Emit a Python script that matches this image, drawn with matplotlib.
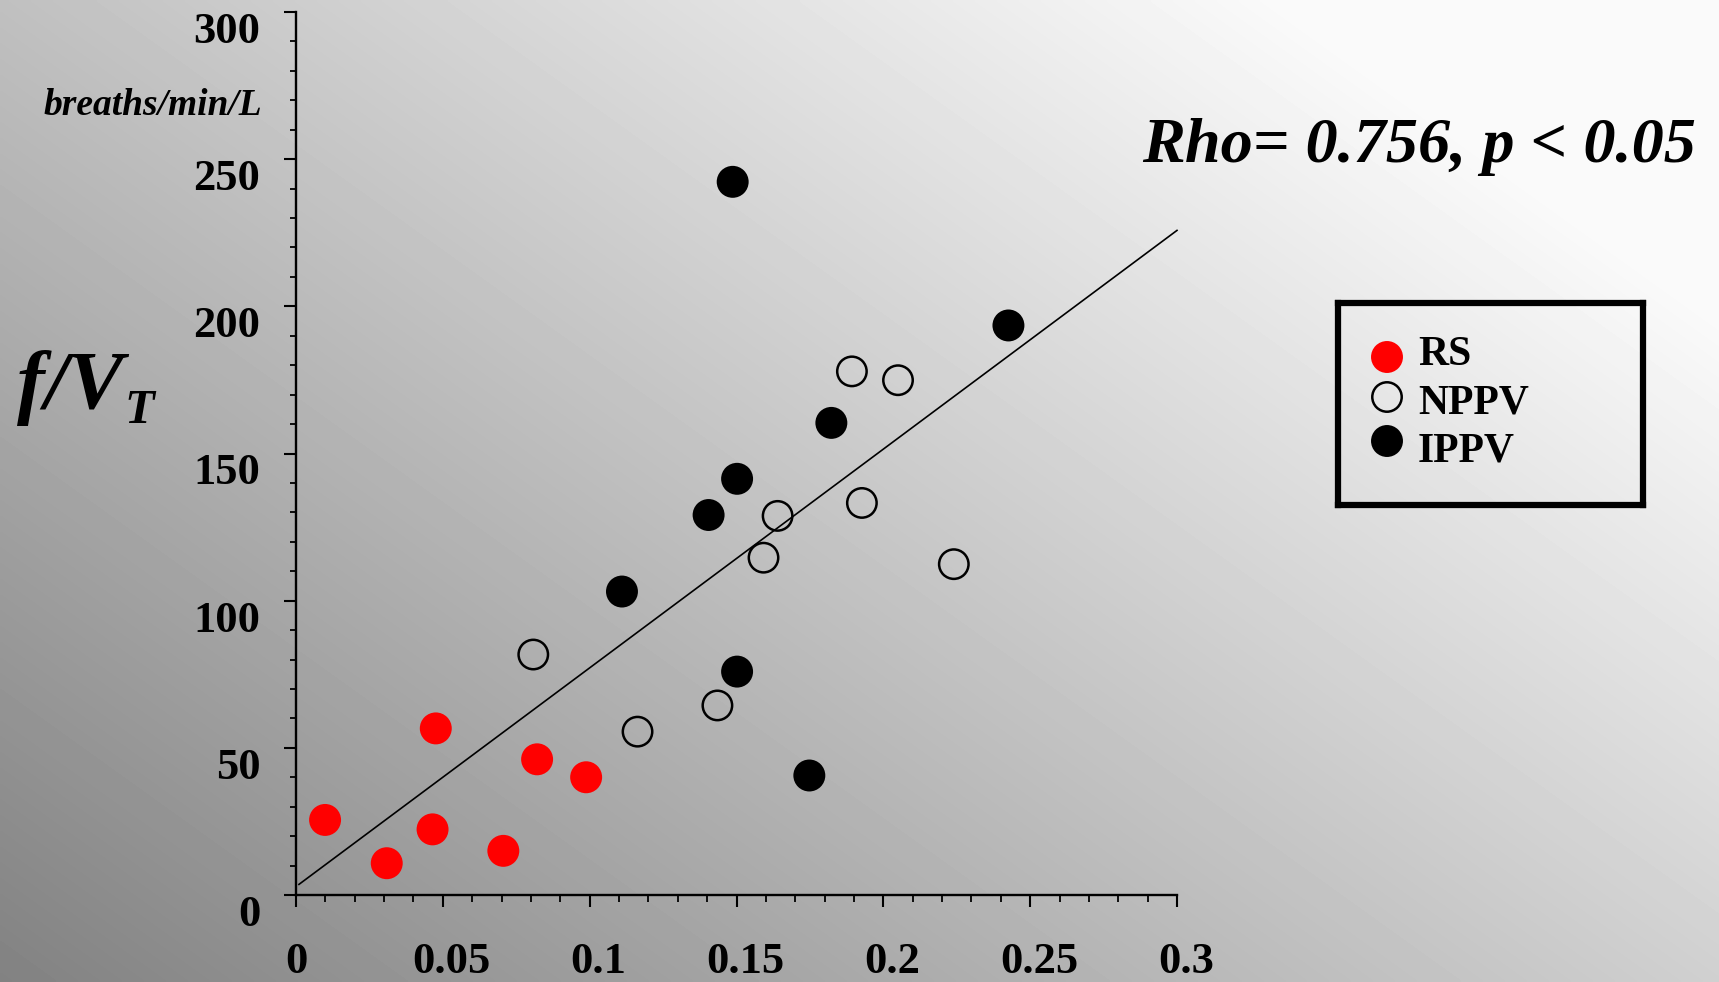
import numpy as np
import matplotlib
matplotlib.use("Agg")
import matplotlib.pyplot as plt
import matplotlib.transforms as mtransforms

plt.rcParams['font.family'] = ['Liberation Serif', 'DejaVu Serif']

# ---------------- data ----------------
rs_x = [0.0099, 0.0309, 0.0465, 0.0476, 0.0706, 0.0821, 0.0988]
rs_y = [25.5, 10.8, 22.3, 56.6, 15.0, 46.1, 40.0]

nppv_x = [0.0808, 0.1163, 0.1435, 0.1592, 0.1640, 0.1893, 0.2050, 0.1927, 0.2240]
nppv_y = [81.7, 55.5, 64.4, 114.6, 128.8, 177.9, 174.9, 133.2, 112.4]

ippv_x = [0.1487, 0.2426, 0.1823, 0.1502, 0.1405, 0.1110, 0.1502, 0.1748]
ippv_y = [242.3, 193.5, 160.4, 141.4, 129.1, 103.1, 75.9, 40.6]

fit_x = [0.001, 0.300]
fit_y = [3.6, 225.8]

x_ticks = [0, 0.05, 0.1, 0.15, 0.2, 0.25, 0.3]
x_tick_labels = ['0', '0.05', '0.1', '0.15', '0.2', '0.25', '0.3']
y_ticks = [0, 50, 100, 150, 200, 250, 300]
y_tick_labels = ['0', '50', '100', '150', '200', '250', '300']

legend_labels = ['RS', 'NPPV', 'IPPV']
legend_face = ['#ff0000', 'none', '#000000']
legend_edge = ['#ff0000', '#000000', '#000000']

stat_text = 'Rho= 0.756, p < 0.05'
unit_text = 'breaths/min/L'

W, H, DPI = 1719, 982, 100
fig = plt.figure(figsize=(W / DPI, H / DPI), dpi=DPI)

# ---------------- background gradient ----------------
bg = fig.add_axes([0, 0, 1, 1], zorder=-10)
bg.axis('off')
u = np.linspace(0, 1, 500)
v = np.linspace(0, 1, 300)
U, V = np.meshgrid(u, v)
G = np.clip((130 + 77.9 * U + 61.9 * V) / 255.0, 0, 250 / 255.0)
bg.imshow(G, origin='lower', extent=[0, 1, 0, 1], aspect='auto',
          cmap='gray', vmin=0, vmax=1, interpolation='bilinear')
bg.set_xlim(0, 1)
bg.set_ylim(0, 1)

# ---------------- main axes ----------------
ax = fig.add_axes([296 / W, (H - 895) / H, (1177 - 296) / W, (895 - 12) / H])
ax.patch.set_alpha(0)
for s in ['top', 'right']:
    ax.spines[s].set_visible(False)
for s in ['left', 'bottom']:
    ax.spines[s].set_linewidth(1.7)
ax.set_xlim(0, 0.3)
ax.set_ylim(0, 300)

ax.set_xticks(x_ticks)
ax.set_xticklabels(x_tick_labels)
ax.set_yticks(y_ticks)
ax.set_yticklabels(y_tick_labels)
ax.set_xticks(np.arange(0, 0.3001, 0.01), minor=True)
ax.set_yticks(np.arange(0, 300.1, 10), minor=True)

ax.tick_params(axis='both', which='major', direction='out', length=8.6, width=1.5,
               labelsize=32)
ax.tick_params(axis='x', which='minor', direction='out', length=5, width=1.3)
ax.tick_params(axis='y', which='minor', direction='out', length=4, width=1.3)
ax.tick_params(axis='y', which='major', pad=17)
ax.tick_params(axis='x', which='major', pad=25)

for lbl in ax.get_xticklabels() + ax.get_yticklabels():
    lbl.set_fontweight('bold')
for lbl in ax.get_yticklabels():
    lbl.set_verticalalignment('top')
off = mtransforms.ScaledTranslation(9 / DPI, 0, fig.dpi_scale_trans)
for lbl in ax.get_xticklabels()[1:]:
    lbl.set_transform(lbl.get_transform() + off)

ax.plot(fit_x, fit_y, color='black', lw=1.2, zorder=2, clip_on=False)
ax.scatter(rs_x, rs_y, s=529, c='#ff0000', edgecolors='none', zorder=3, clip_on=False)
ax.scatter(nppv_x, nppv_y, s=449, facecolors='none', edgecolors='black',
           linewidths=1.8, zorder=3, clip_on=False)
ax.scatter(ippv_x, ippv_y, s=529, c='black', edgecolors='none', zorder=3, clip_on=False)

# ---------------- texts ----------------
fig.text(262 / W, (H - 115) / H, unit_text, ha='right', va='baseline',
         fontsize=27, fontweight='bold', fontstyle='italic')
fig.text(17 / W, (H - 408) / H, 'f/V', ha='left', va='baseline',
         fontsize=60, fontweight='bold', fontstyle='italic')
fig.text(124 / W, (H - 423) / H, 'T', ha='left', va='baseline',
         fontsize=35, fontweight='bold', fontstyle='italic')
fig.text(1142 / W, (H - 162) / H, stat_text, ha='left', va='baseline',
         fontsize=46.3, fontweight='bold', fontstyle='italic')

# ---------------- legend box ----------------
lx0, ly0, lx1, ly1 = 1338, 303, 1643, 505
lax = fig.add_axes([lx0 / W, (H - ly1) / H, (lx1 - lx0) / W, (ly1 - ly0) / H])
lax.set_xlim(0, 1)
lax.set_ylim(0, 1)
lax.set_xticks([])
lax.set_yticks([])
lax.patch.set_alpha(0)
for s in lax.spines.values():
    s.set_linewidth(4.5)
mk_y = [357, 397, 441]
tx_y = [365, 413, 462]
for lab, fc, ec, my, ty in zip(legend_labels, legend_face, legend_edge, mk_y, tx_y):
    if fc == 'none':
        lax.scatter([(1387 - lx0) / (lx1 - lx0)], [(ly1 - my) / (ly1 - ly0)], s=449,
                    facecolors='none', edgecolors=ec, linewidths=1.8, clip_on=False)
    else:
        lax.scatter([(1387 - lx0) / (lx1 - lx0)], [(ly1 - my) / (ly1 - ly0)], s=529,
                    c=fc, edgecolors='none', clip_on=False)
    lax.text((1418 - lx0) / (lx1 - lx0), (ly1 - ty) / (ly1 - ly0), lab,
             ha='left', va='baseline', fontsize=30, fontweight='bold')

fig.savefig('out.png', dpi=DPI)
